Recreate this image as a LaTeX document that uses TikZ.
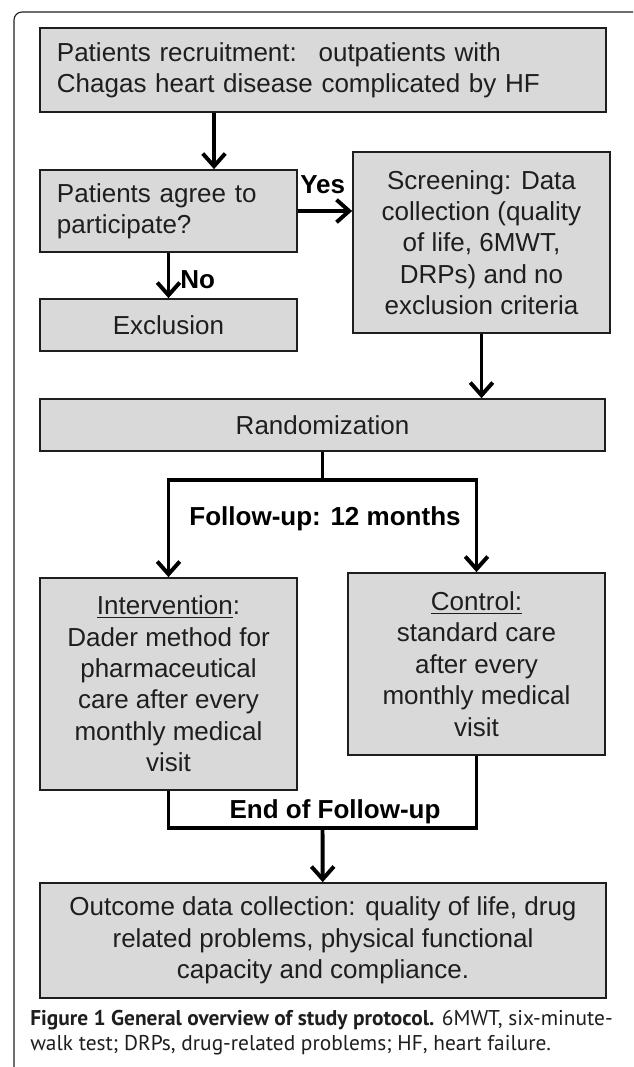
\documentclass[tikz,border=0pt]{standalone}
\usepackage{fontspec}
\setmainfont{Liberation Sans}
\newfontfamily\capfont{PT Sans}
\usetikzlibrary{arrows.meta}
\definecolor{boxgray}{RGB}{217,217,217}
\definecolor{inkgray}{RGB}{30,30,30}
\tikzstyle{flowbox} = [rectangle, draw=inkgray, fill=boxgray, line width=1.2pt, inner sep=0pt, text=inkgray, font=\fontsize{18.5}{22.3}\selectfont]
\tikzstyle{leftbox} = [flowbox, align=left]
\tikzstyle{midbox} = [flowbox, align=center]
\tikzstyle{flowlabel} = [inner sep=0pt, font=\fontsize{18.5}{22.3}\selectfont\bfseries]
\tikzstyle{flowline} = [line width=2.8pt]
\tikzstyle{flowarrow} = [flowline, -{Straight Barb[length=9pt,width=16pt]}]
\tikzstyle{captext} = [inner sep=0pt, anchor=base west, text=inkgray, font=\capfont\fontsize{15.2}{18}\selectfont]

\begin{document}
\begin{tikzpicture}[x=0.025cm, y=-0.025cm]
	\useasboundingbox (0,0) rectangle (633,1067);
	\draw [draw=inkgray, line width=0.8pt, rounded corners=0.2cm] (633,12) -- (14,12) -- (14,1067);
	\node (recruit) [leftbox, minimum width=14.15cm, minimum height=2.1cm, text width=13.3cm] at (323,70) {Patients recruitment:~ outpatients with\\Chagas heart disease complicated by HF};
	\node (agree) [leftbox, minimum width=6.425cm, minimum height=2.05cm, text width=5.575cm] at (168.5,211) {Patients agree to\\participate?};
	\node (screen) [midbox, minimum width=6.425cm, minimum height=4.525cm] at (481.5,242.5) {Screening: Data\\collection (quality\\of life, 6MWT,\\DRPs) and no\\exclusion criteria};
	\node (excl) [midbox, minimum width=6.425cm, minimum height=1.3cm] at (168.5,325) {Exclusion};
	\node (rand) [midbox, minimum width=14.125cm, minimum height=1.3cm] at (322.5,425) {Randomization};
	\node (interv) [midbox, minimum width=6.425cm, minimum height=5.3cm] at (168.5,684) {\underline{Intervention}:\\Dader method for\\pharmaceutical\\care after every\\monthly medical\\visit};
	\node (ctrl) [midbox, minimum width=6.425cm, minimum height=4.55cm] at (476.5,664) {\underline{Control:}\\standard care\\after every\\monthly medical\\visit};
	\node (outcome) [midbox, minimum width=14.15cm, minimum height=2.875cm] at (323,940.5) {Outcome data collection: quality of life, drug\\related problems, physical functional\\capacity and compliance.};
	\node (yes) [flowlabel, anchor=base west] at (300,193) {Yes};
	\node (no) [flowlabel, anchor=base west] at (180,288) {No};
	\node (followup) [flowlabel, anchor=base] at (325,525) {Follow-up: 12 months};
	\node (endfollow) [flowlabel, anchor=base] at (335,818) {End of Follow-up};
	\node (cap1) [captext] at (30,1025) {\textbf{Figure 1 General overview of study protocol.} 6MWT, six-minute-};
	\node (cap2) [captext] at (30,1050) {walk test; DRPs, drug-related problems; HF, heart failure.};
	\coordinate (drop) at (214,0);
	\coordinate (split) at (322.5,480);
	\coordinate (join) at (322.5,828);
	\draw [flowarrow] (recruit.south -| drop) -- (agree.north -| drop);
	\draw [flowarrow] (agree) -- (agree -| screen.west);
	\draw [flowarrow] (agree) -- (excl);
	\draw [flowarrow] (screen) -- (screen |- rand.north);
	\draw [flowline] (rand) -- (split);
	\draw [flowarrow] (split) -| (interv);
	\draw [flowarrow] (split) -| (ctrl);
	\draw [flowline] (interv) |- (join);
	\draw [flowline] (ctrl) |- (join);
	\draw [flowarrow] (join) -- (outcome);
\end{tikzpicture}
\end{document}
